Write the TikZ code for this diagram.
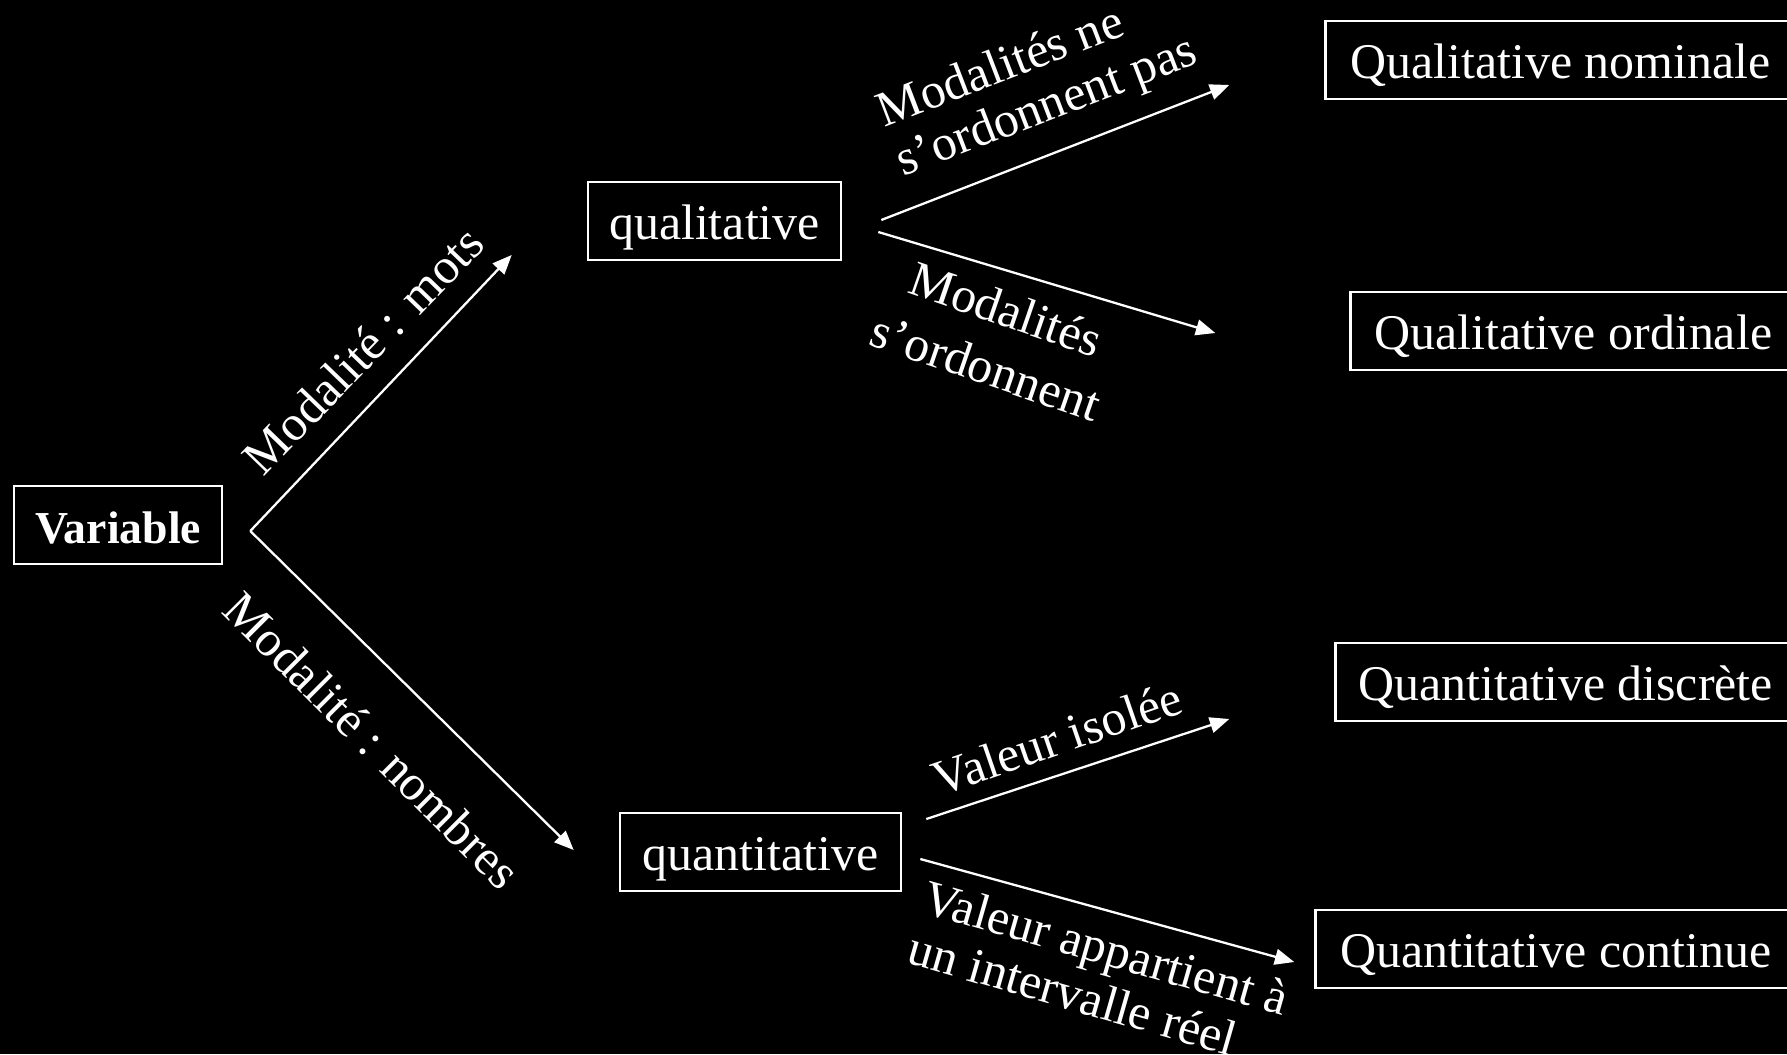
\documentclass[tikz,border=0pt]{standalone}
\usepackage{fontspec}
\setmainfont{Liberation Serif}
\usetikzlibrary{arrows.meta,calc}
\begin{document}
\begin{tikzpicture}[x=0.01cm,y=-0.01cm,
  every node/.style={text=white, font=\fontsize{14.2pt}{15pt}\selectfont},
  box/.style={draw=white, line width=0.7pt, minimum height=0.78cm, inner sep=0pt, text height=0.36cm, text depth=0cm},
  lbl/.style={inner sep=0pt},
  arr/.style={draw=white, line width=0.65pt, -{Triangle[length=5.5pt,width=4.5pt]}}]
\fill[black] (0,0) rectangle (1787,1054);
\useasboundingbox (0,0) rectangle (1787,1054);
\clip (0,0) rectangle (1787,1054);

% boxes
\node[box, font=\bfseries\fontsize{13pt}{15pt}\selectfont, minimum width=2.08cm] (var) at (118,525) {Variable};
\node[box, minimum width=2.53cm] (qual) at (714.5,221) {qualitative};
\node[box, minimum width=2.81cm] (quant) at (760.5,852) {quantitative};
\node[box, minimum width=4.70cm, anchor=east] (qn) at (1797,60) {Qualitative nominale};
\node[box, minimum width=4.45cm, anchor=east] (qo) at (1797,331) {Qualitative ordinale};
\node[box, minimum width=4.60cm, anchor=east] (qd) at (1797,682) {Quantitative discrète};
\node[box, minimum width=4.80cm, anchor=east] (qc) at (1797,949) {Quantitative continue};

% arrow ends
\coordinate (v0) at ($(var.east)+(27,6)$);
\coordinate (t1) at ($(qual.west)+(-75,34)$);
\coordinate (t2) at ($(quant.west)+(-45,-2)$);
\coordinate (a1s) at ($(qual.east)+(39,-1)$);
\coordinate (a1e) at ($(qn.west)+(-95,25)$);
\coordinate (a2s) at ($(qual.east)+(36,11)$);
\coordinate (a2e) at ($(qo.west)+(-134,2)$);
\coordinate (a3s) at ($(quant.east)+(24,-33)$);
\coordinate (a3e) at ($(qd.west)+(-105,37)$);
\coordinate (a4s) at ($(quant.east)+(18,7)$);
\coordinate (a4e) at ($(qc.west)+(-20,13)$);

\draw[arr] (v0) -- (t1);
\draw[arr] (v0) -- (t2);
\draw[arr] (a1s) -- (a1e);
\draw[arr] (a2s) -- (a2e);
\draw[arr] (a3s) -- (a3e);
\draw[arr] (a4s) -- (a4e);

% labels
\node[lbl, rotate=46] (l1) at (363,350) {Modalité : mots};
\node[lbl, rotate=-45] (l2) at (372,740) {Modalité : nombres};
\node[lbl, rotate=21, align=left] (l3) at (1038,84) {Modalités ne\\s’ordonnent pas};
\node[lbl, rotate=-19, align=center, font=\fontsize{14.2pt}{17.5pt}\selectfont] (l4) at (996,338) {Modalités\\s’ordonnent};
\node[lbl, rotate=19] (l5) at (1057,738) {Valeur isolée};
\node[lbl, rotate=-16, align=left] (l6) at (1099,973) {Valeur appartient à\\un intervalle réel};
\end{tikzpicture}
\end{document}
